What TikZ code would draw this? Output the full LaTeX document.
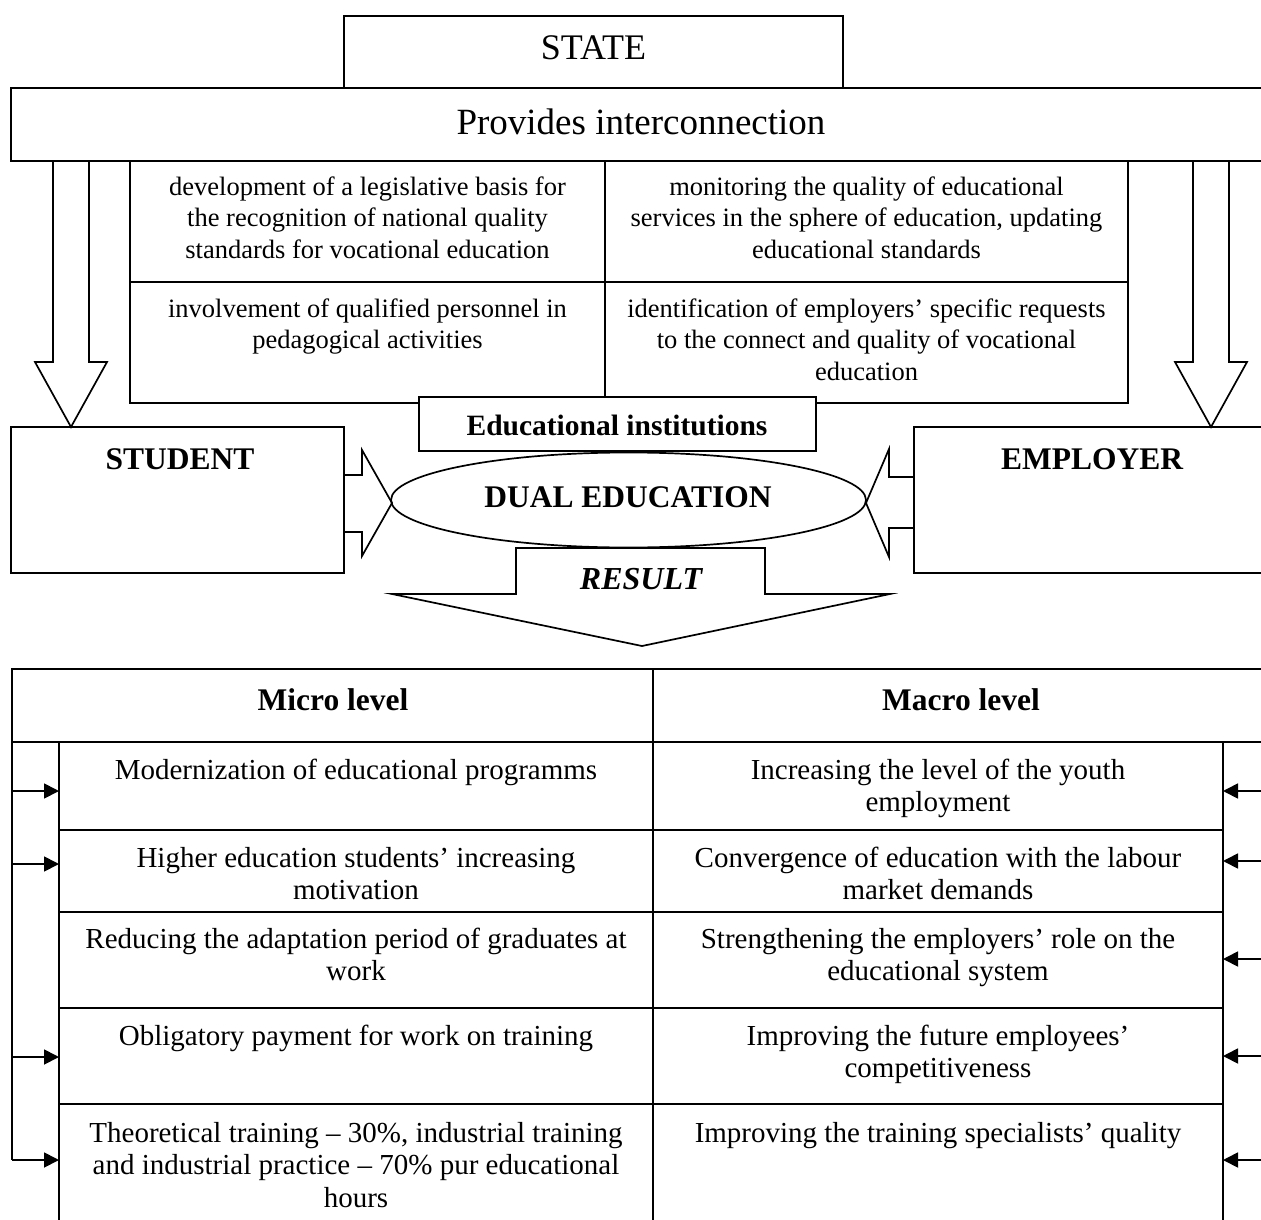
\documentclass[tikz,border=0pt]{standalone}
\usepackage{fontspec}
\setmainfont{Liberation Serif}
\usetikzlibrary{arrows.meta,shapes.geometric}
\begin{document}
\begin{tikzpicture}[x=1pt,y=-1pt,
  ln/.style={line width=1.7pt, line join=miter},
  fillbox/.style={ln, fill=white},
  txt/.style={inner sep=0pt, anchor=base, align=center},
  midtxt/.style={txt, font=\fontsize{26.5}{31.5}\selectfont},
  tabtxt/.style={txt, font=\fontsize{29}{32.7}\selectfont},
  boldtxt/.style={txt, font=\fontsize{31.5}{36}\selectfont\bfseries},
  conn/.style={line width=1.8pt, -{Triangle[length=15pt,width=15pt]}}]
\useasboundingbox (0,0) rectangle (1261,1220);
\clip (0,0) rectangle (1261,1220);

% STATE and Provides interconnection
\draw[ln] (344,16) rectangle (843,88);
\node[txt, font=\fontsize{36}{42}\selectfont] (state) at (593.5,60) {STATE};
\draw[ln] (11,88) rectangle (1280,161);
\node[txt, font=\fontsize{37}{44}\selectfont] (provides) at (641,135) {Provides interconnection};

% big down arrows
\draw[ln] (53,161) -- (53,362) -- (35,362) -- (71,427) -- (107,362) -- (89,362) -- (89,161);
\draw[ln] (1193,161) -- (1193,362) -- (1175,362) -- (1211,427) -- (1247,362) -- (1229,362) -- (1229,161);

% middle table (multi-line nodes: base = last line)
\draw[ln] (130,161) rectangle (1128,403);
\draw[ln] (605,161) -- (605,403);
\draw[ln] (130,282) -- (1128,282);
\node[midtxt] (c11) at (367.5,258) {development of a legislative basis for\\the recognition of national quality\\standards for vocational education};
\node[midtxt] (c12) at (866.5,258) {monitoring the quality of educational\\services in the sphere of education, updating\\educational standards};
\node[midtxt] (c21) at (367.5,348.5) {involvement of qualified personnel in\\pedagogical activities};
\node[midtxt] (c22) at (866.5,380) {identification of employers’ specific requests\\to the connect and quality of vocational\\education};

% Educational institutions
\draw[fillbox] (419,397) rectangle (816,451);
\node[txt, font=\fontsize{29.5}{34}\selectfont\bfseries] (edu) at (617,435) {Educational institutions};

% STUDENT / EMPLOYER
\draw[ln] (11,427) rectangle (344,573);
\node[boldtxt] (student) at (180,469) {STUDENT};
\draw[ln] (914,427) rectangle (1280,573);
\node[boldtxt] (employer) at (1092,469) {EMPLOYER};

% DUAL EDUCATION
\node[draw, ellipse, ln, minimum width=475pt, minimum height=95pt, inner sep=0pt] (dual) at (628.5,500) {};
\node[boldtxt] (dualtxt) at (628,507) {DUAL EDUCATION};

% side block arrows
\draw[ln] (344,475) -- (362,475) -- (362,450) -- (392,503) -- (362,556) -- (362,532) -- (344,532);
\draw[ln] (914,477) -- (889,477) -- (889,449) -- (866,503) -- (889,557) -- (889,528) -- (914,528);

% RESULT arrow
\draw[ln] (516,548) -- (765,548) -- (765,594) -- (890,594) -- (642,646) -- (392,594) -- (516,594) -- cycle;
\node[txt, font=\fontsize{32}{36}\selectfont\bfseries\itshape] (result) at (641,589) {RESULT};

% bottom table
\draw[ln] (11,669) -- (1280,669);
\draw[ln] (12,669) -- (12,1160);
\draw[ln] (12,742) -- (1280,742);
\draw[ln] (653,669) -- (653,1230);
\draw[ln] (59,742) -- (59,1230);
\draw[ln] (1223,742) -- (1223,1230);
\foreach \yy in {830,912,1008,1104} \draw[ln] (59,\yy) -- (1223,\yy);

\node[boldtxt] (micro) at (333,710) {Micro level};
\node[boldtxt] (macro) at (961,710) {Macro level};

\node[tabtxt] (l1) at (356,779) {Modernization of educational programms};
\node[tabtxt] (r1) at (938,811.7) {Increasing the level of the youth\\employment};
\node[tabtxt] (l2) at (356,899.7) {Higher education students’ increasing\\motivation};
\node[tabtxt] (r2) at (938,899.7) {Convergence of education with the labour\\market demands};
\node[tabtxt] (l3) at (356,980.7) {Reducing the adaptation period of graduates at\\work};
\node[tabtxt] (r3) at (938,980.7) {Strengthening the employers’ role on the\\educational system};
\node[tabtxt] (l4) at (356,1045) {Obligatory payment for work on training};
\node[tabtxt] (r4) at (938,1077.7) {Improving the future employees’\\competitiveness};
\node[tabtxt] (l5) at (356,1207.4) {Theoretical training – 30\%, industrial training\\and industrial practice – 70\% pur educational\\hours};
\node[tabtxt] (r5) at (938,1142) {Improving the training specialists’ quality};

% connectors left
\foreach \i/\yy in {1/791,2/864,3/1057,4/1160} {
  \coordinate (ls\i) at (12,\yy);
  \coordinate (le\i) at (59,\yy);
  \draw[conn] (ls\i) -- (le\i);
}
% connectors right
\foreach \i/\yy in {1/791,2/861,3/959,4/1056,5/1160} {
  \coordinate (rs\i) at (1266,\yy);
  \coordinate (re\i) at (1223,\yy);
  \draw[conn] (rs\i) -- (re\i);
}
\end{tikzpicture}
\end{document}
